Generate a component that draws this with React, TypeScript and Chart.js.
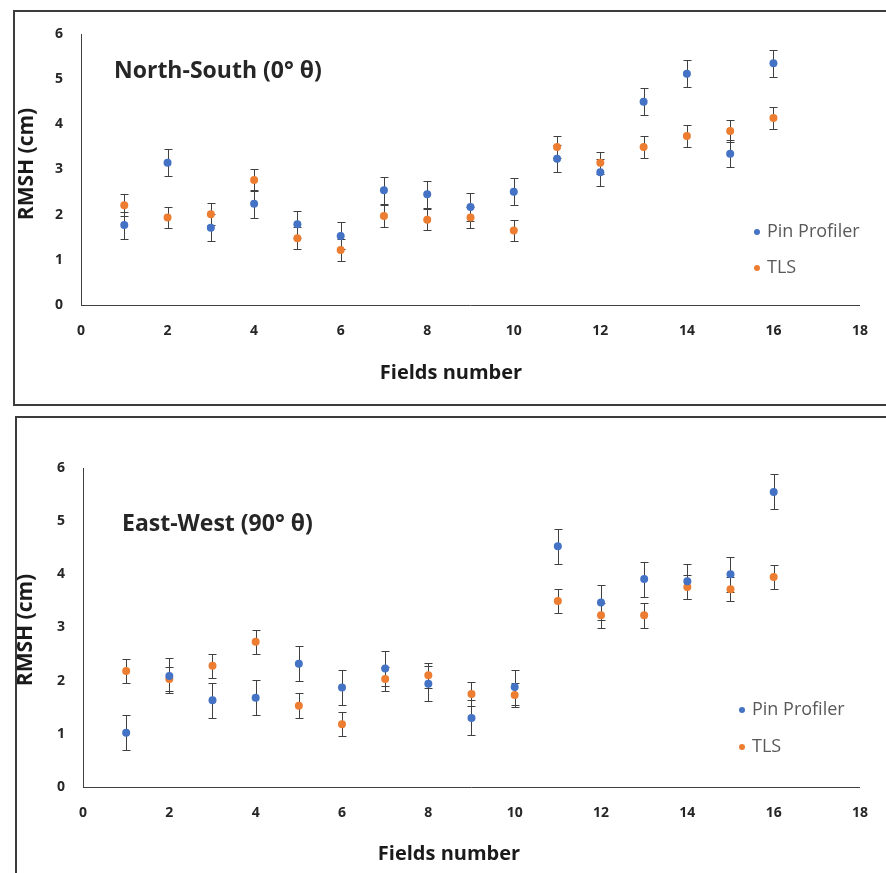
import React, { useEffect, useRef } from "react";
import { Chart, registerables } from "chart.js";

Chart.register(...registerables);

const fields = [1, 2, 3, 4, 5, 6, 7, 8, 9, 10, 11, 12, 13, 14, 15, 16];
const xTicks = [0, 2, 4, 6, 8, 10, 12, 14, 16, 18];
const yTicks = [0, 1, 2, 3, 4, 5, 6];

// North-South (0° θ)
const nsPin = [1.77, 3.15, 1.71, 2.24, 1.79, 1.53, 2.54, 2.45, 2.17, 2.51, 3.24, 2.94, 4.5, 5.12, 3.35, 5.35];
const nsTls = [2.21, 1.94, 2.01, 2.77, 1.48, 1.22, 1.97, 1.89, 1.94, 1.65, 3.5, 3.15, 3.5, 3.74, 3.85, 4.14];
const nsPinErr = [0.3, 0.3, 0.3, 0.31, 0.3, 0.3, 0.3, 0.3, 0.3, 0.3, 0.3, 0.3, 0.3, 0.3, 0.3, 0.3];
const nsTlsErr = [0.24, 0.24, 0.24, 0.24, 0.24, 0.24, 0.24, 0.24, 0.24, 0.24, 0.24, 0.24, 0.24, 0.24, 0.24, 0.24];

// East-West (90° θ)
const ewPin = [1.02, 2.09, 1.63, 1.68, 2.32, 1.87, 2.23, 1.94, 1.3, 1.88, 4.53, 3.47, 3.91, 3.87, 4.0, 5.55];
const ewTls = [2.18, 2.03, 2.28, 2.73, 1.53, 1.18, 2.03, 2.1, 1.75, 1.73, 3.5, 3.23, 3.23, 3.76, 3.72, 3.95];
const ewPinErr = [0.33, 0.33, 0.33, 0.33, 0.33, 0.33, 0.33, 0.33, 0.33, 0.33, 0.33, 0.33, 0.33, 0.33, 0.33, 0.33];
const ewTlsErr = [0.23, 0.23, 0.23, 0.23, 0.23, 0.23, 0.23, 0.23, 0.23, 0.23, 0.23, 0.23, 0.23, 0.23, 0.23, 0.23];

const seriesNames = ["Pin Profiler", "TLS"];
const seriesColors = ["#4472C4", "#ED7D31"];
const FONT = "'Open Sans', Lato, sans-serif";

const errorBarPlugin = {
  id: "errorBars",
  beforeDatasetsDraw(chart: any) {
    const ctx = chart.ctx;
    const yScale = chart.scales.y;
    ctx.save();
    ctx.strokeStyle = "#404040";
    ctx.lineWidth = 1;
    chart.data.datasets.forEach((ds: any, i: number) => {
      const meta = chart.getDatasetMeta(i);
      meta.data.forEach((pt: any, j: number) => {
        const v = ds.data[j].y;
        const e = ds.errors[j];
        const x = Math.round(pt.x) + 0.5;
        const yt = Math.round(yScale.getPixelForValue(v + e)) + 0.5;
        const yb = Math.round(yScale.getPixelForValue(v - e)) + 0.5;
        ctx.beginPath();
        ctx.moveTo(x, yt);
        ctx.lineTo(x, yb);
        ctx.moveTo(x - 4, yt);
        ctx.lineTo(x + 4, yt);
        ctx.moveTo(x - 4, yb);
        ctx.lineTo(x + 4, yb);
        ctx.stroke();
      });
    });
    ctx.restore();
  },
};

const textPlugin = {
  id: "texts",
  afterDraw(chart: any) {
    const o = chart.options.plugins.texts;
    const ctx = chart.ctx;
    ctx.save();
    // panel title
    ctx.fillStyle = "#262626";
    ctx.font = `bold 23px ${FONT}`;
    ctx.textAlign = "left";
    ctx.textBaseline = "middle";
    ctx.fillText(o.title, o.titleX, o.titleY);
    // x axis title
    ctx.fillStyle = "#1a1a1a";
    ctx.font = `bold 20px ${FONT}`;
    ctx.textAlign = "center";
    ctx.fillText(o.xTitle, o.xTitleX, o.xTitleY);
    // y axis title
    ctx.font = `bold 21px ${FONT}`;
    ctx.save();
    ctx.translate(o.yTitleX, o.yTitleY);
    ctx.rotate(-Math.PI / 2);
    ctx.fillText(o.yTitle, 0, 0);
    ctx.restore();
    // legend
    ctx.font = `18px ${FONT}`;
    ctx.textAlign = "left";
    chart.data.datasets.forEach((ds: any, i: number) => {
      const ly = o.legendY + i * o.legendGap;
      ctx.fillStyle = ds.backgroundColor;
      ctx.beginPath();
      ctx.arc(o.legendX, ly, 3, 0, Math.PI * 2);
      ctx.fill();
      ctx.fillStyle = "#595959";
      ctx.fillText(ds.label, o.legendX + 10, ly);
    });
    ctx.restore();
  },
};

function makeConfig(pin: number[], tls: number[], pinErr: number[], tlsErr: number[], geo: any) {
  const series = [pin, tls];
  const errs = [pinErr, tlsErr];
  return {
    type: "scatter" as const,
    data: {
      datasets: series.map((vals, i) => ({
        label: seriesNames[i],
        data: fields.map((f, j) => ({ x: f, y: vals[j] })),
        errors: errs[i],
        backgroundColor: seriesColors[i],
        borderColor: seriesColors[i],
        pointRadius: 4,
        pointBorderWidth: 0,
      })),
    },
    options: {
      animation: false,
      responsive: false,
      maintainAspectRatio: false,
      events: [],
      layout: { padding: { top: geo.top, right: geo.right, left: 0, bottom: 0 } },
      plugins: {
        legend: { display: false },
        title: { display: false },
        tooltip: { enabled: false },
        texts: geo.texts,
      },
      scales: {
        x: {
          type: "linear",
          min: 0,
          max: 18,
          afterBuildTicks: (s: any) => {
            s.ticks = xTicks.map((v) => ({ value: v }));
          },
          afterFit: (s: any) => {
            s.height = geo.xHeight;
          },
          grid: { display: false, drawTicks: false },
          border: { display: true, color: "#404040", width: 1 },
          ticks: {
            padding: 18,
            color: "#262626",
            font: { family: FONT, size: 14, weight: "bold" },
          },
        },
        y: {
          type: "linear",
          min: 0,
          max: 6,
          afterBuildTicks: (s: any) => {
            s.ticks = yTicks.map((v) => ({ value: v }));
          },
          afterFit: (s: any) => {
            s.width = geo.yWidth;
          },
          grid: { display: false, drawTicks: false },
          border: { display: true, color: "#404040", width: 1 },
          ticks: {
            padding: 18,
            color: "#262626",
            font: { family: FONT, size: 14, weight: "bold" },
          },
        },
      },
    },
    plugins: [errorBarPlugin, textPlugin],
  };
}

function ChartCanvas({ config, style, width, height }: any) {
  const ref = useRef<HTMLCanvasElement>(null);
  useEffect(() => {
    const chart = new Chart(ref.current as HTMLCanvasElement, config as any);
    return () => chart.destroy();
  }, []);
  return <canvas ref={ref} width={width} height={height} style={{ position: "absolute", width, height, ...style }} />;
}

export default function App() {
  const topCfg = makeConfig(nsPin, nsTls, nsPinErr, nsTlsErr, {
    top: 34,
    right: 22,
    xHeight: 106,
    yWidth: 81,
    texts: {
      title: "North-South (0° θ)",
      titleX: 114,
      titleY: 71,
      xTitle: "Fields number",
      xTitleX: 451,
      xTitleY: 373,
      yTitle: "RMSH (cm)",
      yTitleX: 27,
      yTitleY: 164,
      legendX: 757,
      legendY: 232,
      legendGap: 36,
    },
  });
  const botCfg = makeConfig(ewPin, ewTls, ewPinErr, ewTlsErr, {
    top: 57,
    right: 22,
    xHeight: 86,
    yWidth: 83,
    texts: {
      title: "East-West (90° θ)",
      titleX: 122,
      titleY: 113,
      xTitle: "Fields number",
      xTitleX: 449,
      xTitleY: 443,
      yTitle: "RMSH (cm)",
      yTitleX: 26,
      yTitleY: 219,
      legendX: 742,
      legendY: 299,
      legendGap: 37,
    },
  });
  return (
    <div style={{ position: "absolute", left: 0, top: 0, width: 886, height: 873, overflow: "hidden", background: "#fff" }}>
      <div style={{ position: "absolute", left: 13, top: 10, width: 900, height: 396, border: "2px solid #3c3c3c", boxSizing: "border-box" }} />
      <div style={{ position: "absolute", left: 15, top: 416, width: 900, height: 500, border: "2px solid #3c3c3c", boxSizing: "border-box" }} />
      <ChartCanvas config={topCfg} width={886} height={411} style={{ left: 0, top: 0 }} />
      <ChartCanvas config={botCfg} width={886} height={462} style={{ left: 0, top: 411 }} />
    </div>
  );
}
